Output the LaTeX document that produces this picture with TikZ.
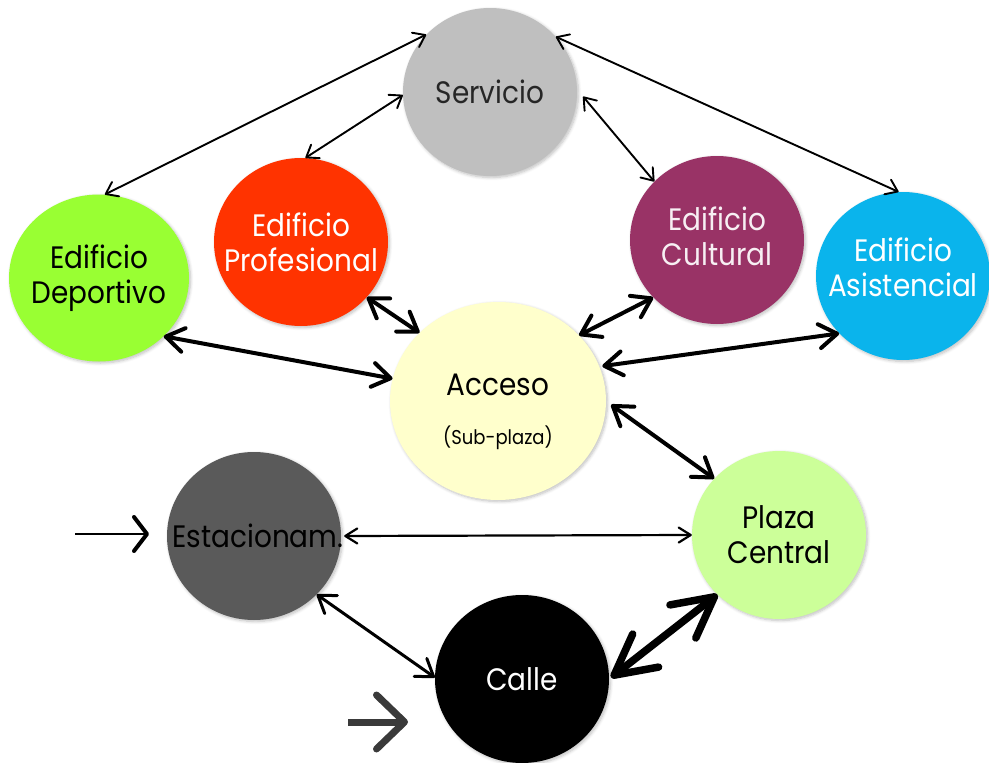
\documentclass[tikz,border=0pt]{standalone}
\usepackage{fontspec}
\setmainfont[FakeStretch=0.9]{Poppins}
\usetikzlibrary{arrows.meta,shapes.geometric,shadows.blur}
\definecolor{servc}{HTML}{BFBFBF}
\definecolor{profc}{HTML}{FF3300}
\definecolor{cultc}{HTML}{993366}
\definecolor{depc}{HTML}{99FF33}
\definecolor{asisc}{HTML}{0AB4EC}
\definecolor{accc}{HTML}{FFFFCC}
\definecolor{plazc}{HTML}{CCFF99}
\definecolor{estc}{HTML}{5A5A5A}
\definecolor{callc}{HTML}{000000}
\definecolor{entc}{HTML}{3A3A3A}
\begin{document}
\begin{tikzpicture}[x=1pt,y=-1pt,
  bub/.style={ellipse, inner sep=0pt, minimum width=174pt, minimum height=168pt,
    blur shadow={shadow xshift=1.5pt, shadow yshift=-1.5pt, shadow blur radius=3pt, shadow blur steps=6, shadow opacity=25}},
  lab/.style={align=center, inner sep=0pt, font=\fontsize{31}{35}\selectfont},
  sublab/.style={align=center, inner sep=0pt, font=\fontsize{20}{22}\selectfont},
  thinarrow/.style={line width=1.9pt, {Straight Barb[length=11pt,width=16pt,round]}-{Straight Barb[length=11pt,width=16pt,round]}},
  estarrow/.style={line width=2.2pt, {Straight Barb[length=12pt,width=15pt,round]}-{Straight Barb[length=12pt,width=15pt,round]}},
  midarrow/.style={line width=4pt, {Straight Barb[length=18pt,width=24pt,round]}-{Straight Barb[length=18pt,width=24pt,round]}},
  ecarrow/.style={line width=3pt, {Straight Barb[length=16pt,width=22pt,round]}-{Straight Barb[length=16pt,width=22pt,round]}},
  bigarrow/.style={line width=7.5pt, {Straight Barb[length=40pt,width=42pt,round]}-{Straight Barb[length=40pt,width=42pt,round]}},
  entryone/.style={line width=2pt, -{Straight Barb[length=13pt,width=34pt,line width=4pt,round]}},
  entrytwo/.style={line width=7pt, draw=entc, -{Straight Barb[length=28pt,width=54pt,round]}}
]
\useasboundingbox (0,0) rectangle (989,763);

\node[bub, fill=servc, label={[lab,text=black!85]center:Servicio}] (serv) at (490,92) {};
\node[bub, fill=profc, label={[lab,text=white]center:Edificio\\Profesional}] (prof) at (301,242) {};
\node[bub, fill=cultc, label={[lab,text=white!92!cultc,yshift=4pt]center:Edificio\\Cultural}] (cult) at (717,240) {};
\node[bub, fill=depc, minimum width=180pt, minimum height=167pt, label={[lab,text=black]center:Edificio\\Deportivo}] (dep) at (99,278) {};
\node[bub, fill=asisc, label={[lab,text=white,yshift=9pt]center:Edificio\\Asistencial}] (asis) at (903,276) {};
\node[bub, fill=accc, minimum width=216pt, minimum height=198pt] (acc) at (498,401) {};
\node[lab, text=black] (acct) at (498,385) {Acceso};
\node[sublab, text=black] (accs) at (498,438) {(Sub-plaza)};
\node[bub, fill=plazc, label={[lab,text=black]center:Plaza\\Central}] (plaza) at (779,535) {};
\node[bub, fill=estc, label={[lab,text=black,xshift=4pt]center:Estacionam.}] (estac) at (254,536) {};
\node[bub, fill=callc, label={[lab,text=white]center:Calle}] (calle) at (522,679) {};

\draw[thinarrow] (serv.138) -- (dep.86);
\draw[thinarrow] (serv.182) -- (prof.87);
\draw[thinarrow] ([xshift=6pt]serv.-3) -- (cult.137);
\draw[thinarrow] (serv.40) -- (asis.93);
\draw[midarrow] (prof.-40) -- (acc.139);
\draw[midarrow] (cult.222) -- (acc.39);
\draw[midarrow] (dep.-42) -- (acc.168);
\draw[midarrow] (asis.222) -- ([xshift=3pt]acc.19);
\draw[midarrow] ([xshift=5pt]acc.-2) -- (plaza.139);
\draw[estarrow] ([xshift=3pt]estac.0) -- (plaza.180);
\draw[ecarrow] (estac.-43) -- (calle.179);
\draw[bigarrow] ([xshift=2pt]calle.1) -- (plaza.224);

\coordinate (e1s) at (75,534);
\coordinate (e1t) at (149,534);
\draw[entryone] (e1s) -- (e1t);
\coordinate (e2s) at (348,722);
\coordinate (e2t) at (408,722);
\draw[entrytwo] (e2s) -- (e2t);
\end{tikzpicture}
\end{document}
